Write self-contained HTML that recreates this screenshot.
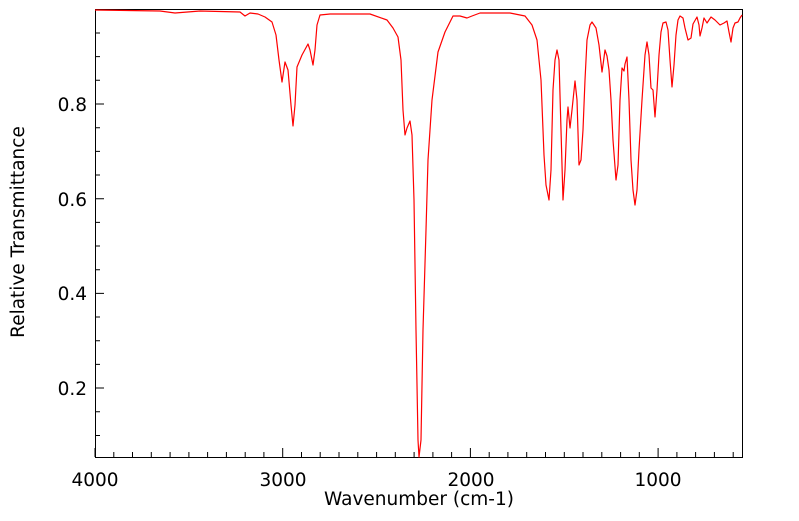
<!DOCTYPE html><html><head><style>body{margin:0;background:#fff}svg text{font-family:"DejaVu Sans","Liberation Sans",sans-serif;font-size:18.5px;fill:#000}</style></head><body>
<svg width="799" height="516" xmlns="http://www.w3.org/2000/svg">
<rect x="95.5" y="9.5" width="647" height="448" fill="none" stroke="#000" stroke-width="1"/>
<path stroke="#000" stroke-width="1" fill="none" d="
M95,457v-9 M113.8,457v-5 M132.5,457v-5 M151.3,457v-5 M170.1,457v-5 M188.9,457v-5 M207.6,457v-5 M226.4,457v-5 M245.2,457v-5 M263.9,457v-5
M282.7,457v-9 M301.5,457v-5 M320.2,457v-5 M339,457v-5 M357.8,457v-5 M376.6,457v-5 M395.3,457v-5 M414.1,457v-5 M432.9,457v-5 M451.6,457v-5
M470.4,457v-9 M489.2,457v-5 M507.9,457v-5 M526.7,457v-5 M545.5,457v-5 M564.3,457v-5 M583,457v-5 M601.8,457v-5 M620.6,457v-5 M639.3,457v-5
M658.1,457v-9 M676.9,457v-5 M695.6,457v-5 M714.4,457v-5 M733.2,457v-5
M95,33h5 M95,56.6h5 M95,80.3h5 M95,104h9 M95,127.7h5 M95,151.4h5 M95,175h5 M95,198.7h9 M95,222.4h5 M95,246h5 M95,269.7h5 M95,293.4h9 M95,317h5 M95,340.8h5 M95,364.4h5 M95,388h9 M95,411.8h5 M95,435.5h5"/>
<polyline fill="none" stroke="#f00" stroke-width="1.2" stroke-linejoin="round" points="95,10 160,11 175,13 200,11 240,12 245,16 250,13 258,14 265,17 272,22 276,35 279,60 282,82 285,62 288,70 291,105 293,126 295,105 297,67 302,55 308,44 310,50 313,65 315,50 317,25 320,15 330,14 370,14 387,20 393,28 398,37 401,60 403,110 405,135 407,128 410,121 412,135 414,200 416,330 418,440 419,457 421,440 423,330 426,230 428,160 432,100 438,52 445,32 453,16 460,16 467,18 472,16 480,13 510,13 525,16 532,25 537,40 541,80 544,155 546,185 549,200 551,170 553,90 555,60 557,50 559,60 561,130 563,200 565,170 567,120 568,107 570,128 572,110 575,81 577,100 579,165 581,160 583,130 585,80 587,40 590,25 592,22 596,28 599,45 602,72 603,65 605,50 607,56 609,70 611,100 613,140 616,180 618,165 620,100 622,68 624,71 625,64 627,57 629,100 631,160 633,190 635,205 637,190 639,150 642,100 645,55 647,42 649,55 651,88 653,90 655,117 657,90 659,55 661,32 663,23 666,22 668,30 670,60 672,87 674,65 676,35 678,20 680,16 683,18 685,28 688,40 691,38 693,24 697,17 699,25 700,36 702,28 704,18 707,23 711,17 715,20 720,25 724,23 727,21 729,32 731,42 733,28 735,23 738,22 740,18 742,15"/>
<g text-anchor="middle">
<text x="95" y="486">4000</text><text x="283" y="486">3000</text><text x="471" y="486">2000</text><text x="658" y="486">1000</text>
<text x="419" y="505">Wavenumber (cm-1)</text>
</g>
<g text-anchor="end">
<text x="87" y="111">0.8</text><text x="87" y="206">0.6</text><text x="87" y="300">0.4</text><text x="87" y="395">0.2</text>
</g>
<text transform="translate(24,232) rotate(-90)" text-anchor="middle">Relative Transmittance</text>
</svg></body></html>
